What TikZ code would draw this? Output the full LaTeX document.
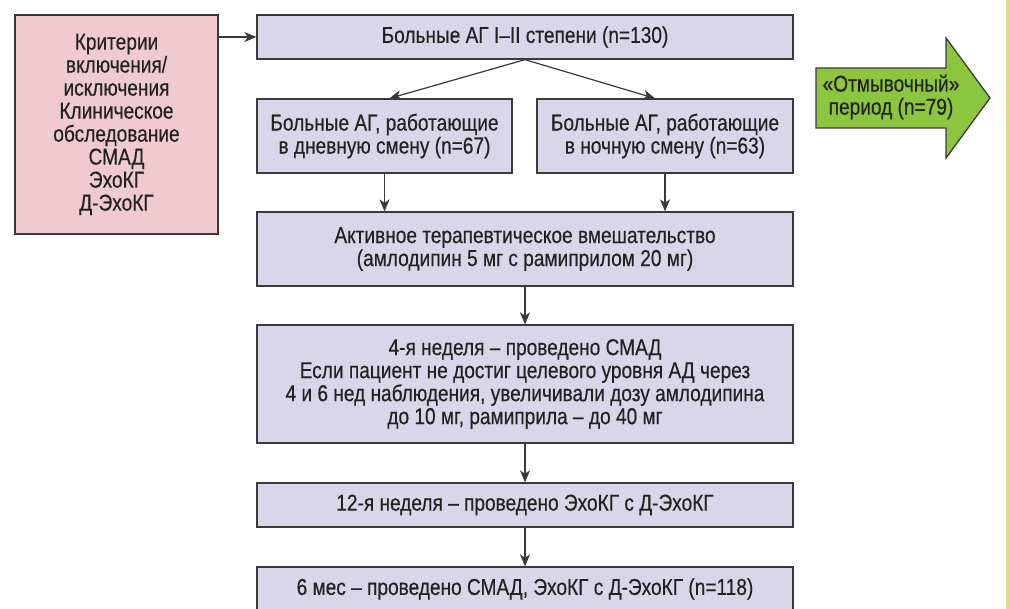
\documentclass[tikz,border=0pt]{standalone}
\usepackage{fontspec}
\setmainfont[FakeStretch=0.83,FakeBold=0.4]{Liberation Sans}
\usetikzlibrary{arrows.meta}
\definecolor{boxfill}{HTML}{D9D6E9}
\definecolor{pinkfill}{HTML}{EFCAD1}
\definecolor{greenfill}{HTML}{8CC63E}
\definecolor{edgecol}{HTML}{3A3A3A}
\definecolor{rulecol}{HTML}{E1D98B}
\definecolor{txtcol}{HTML}{222222}
\begin{document}
\begin{tikzpicture}[x=1pt,y=-1pt,
  stepbox/.style={draw=edgecol, line width=1.3pt, fill=boxfill, inner sep=0pt, align=center,
    text=txtcol, font=\fontsize{23}{23}\selectfont},
  pinkbox/.style={stepbox, fill=pinkfill},
  conn/.style={draw=edgecol, line width=1.2pt, -{Stealth[length=12pt,width=10pt,inset=3.5pt]}}]
\useasboundingbox (0,0) rectangle (1010,609);
\fill[rulecol] (1006,0) rectangle (1010,609);
\node[pinkbox, minimum width=203pt, minimum height=219pt] (crit) at (116.5,124.5)
  {Критерии\\включения/\\исключения\\Клиническое\\обследование\\СМАД\\ЭхоКГ\\Д-ЭхоКГ};
\node[stepbox, minimum width=536pt, minimum height=44pt] (top) at (525,37)
  {Больные АГ I–II степени (n=130)};
\node[stepbox, minimum width=255pt, minimum height=74pt] (day) at (384.5,136)
  {Больные АГ, работающие\\в дневную смену (n=67)};
\node[stepbox, minimum width=256pt, minimum height=74pt] (night) at (665,136)
  {Больные АГ, работающие\\в ночную смену (n=63)};
\node[stepbox, minimum width=536pt, minimum height=74pt] (active) at (525,249)
  {Активное терапевтическое вмешательство\\(амлодипин 5 мг с рамиприлом 20 мг)};
\node[stepbox, minimum width=536pt, minimum height=118pt] (w4) at (525,384)
  {4-я неделя – проведено СМАД\\Если пациент не достиг целевого уровня АД через\\4 и 6 нед наблюдения, увеличивали дозу амлодипина\\до 10 мг, рамиприла – до 40 мг};
\node[stepbox, minimum width=536pt, minimum height=44pt] (w12) at (525,505)
  {12-я неделя – проведено ЭхоКГ с Д-ЭхоКГ};
\node[stepbox, minimum width=536pt, minimum height=44pt] (m6) at (525,589)
  {6 мес – проведено СМАД, ЭхоКГ с Д-ЭхоКГ (n=118)};
\draw[draw=edgecol, line width=1.3pt, fill=greenfill]
  (816,68) -- (946,68) -- (946,38) -- (990,98) -- (946,158) -- (946,128) -- (816,128) -- cycle;
\node[align=center, text=txtcol, font=\fontsize{23}{23}\selectfont] (wash) at (891,97)
  {«Отмывочный»\\период (n=79)};
\draw[conn] (crit.east |- top.west) -- (top.west);
\draw[conn] (top.south) -- ([xshift=5pt]day.north);
\draw[conn] (top.south) -- ([xshift=-10pt]night.north);
\draw[conn] (day.south) -- (day.south |- active.north);
\draw[conn] (night.south) -- (night.south |- active.north);
\draw[conn] (active.south) -- (w4.north);
\draw[conn] (w4.south) -- (w12.north);
\draw[conn] (w12.south) -- (m6.north);
\end{tikzpicture}
\end{document}
